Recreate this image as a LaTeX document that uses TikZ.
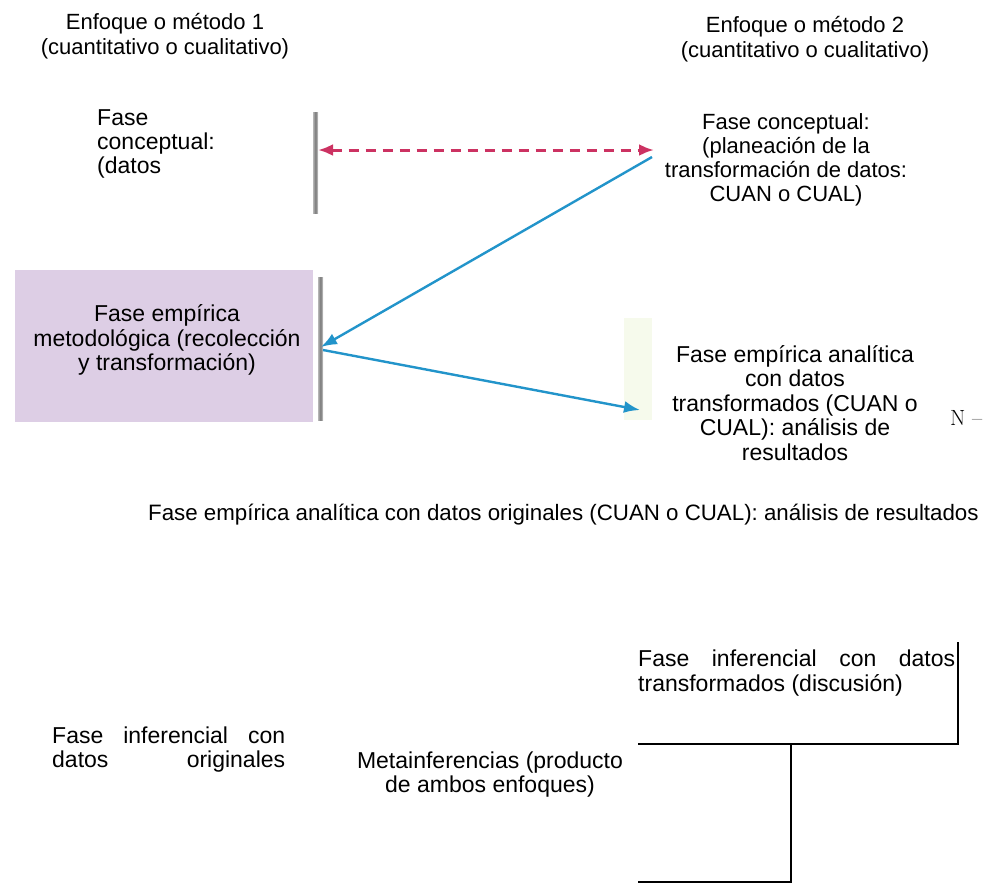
\documentclass[tikz,border=0pt]{standalone}
\usepackage{fontspec}
\newfontfamily\arialfont{Liberation Sans}
\usetikzlibrary{positioning, arrows.meta}

\definecolor{pinkarrow}{RGB}{204,50,98}
\definecolor{bluearrow}{RGB}{34,148,202}
\definecolor{lilac}{RGB}{221,206,229}
\definecolor{scanedge}{RGB}{120,120,120}
\definecolor{palegreen}{RGB}{246,250,236}

\begin{document}
\begin{tikzpicture}[
    x=1pt, y=-1pt,
    txt/.style={
        align=center,
        inner sep=0pt,
        font=\arialfont\fontsize{23}{24.5}\selectfont
    },
    lefttxt/.style={
        txt,
        align=left
    },
    phasebox/.style={
        fill=lilac,
        draw=none
    },
    edge/.style={
        left color=scanedge!55, right color=scanedge!35,
        middle color=scanedge,
        draw=none
    },
    dasharrow/.style={
        pinkarrow,
        line width=3pt,
        dash pattern=on 10pt off 7pt,
        {Latex[length=15pt,width=12pt]}-{Latex[length=15pt,width=12pt]}
    },
    arrow/.style={
        bluearrow,
        line width=2.4pt,
        -{Latex[length=16pt,width=12pt]}
    },
    rule/.style={
        black,
        line width=1.6pt
    }
]
\useasboundingbox (0,0) rectangle (998,884);

% Scanned background pieces

\fill[phasebox] (15,270) rectangle (313,422);
\fill[palegreen] (624,318) rectangle (652,420);
\shade[edge] (313,112) rectangle (318,213);
\shade[edge] (318,277) rectangle (323,420);

% Headers

\node[txt, font=\arialfont\fontsize{22}{25.5}\selectfont, anchor=north] (method1) at (165,13) {
Enfoque o método 1\\
(cuantitativo o cualitativo)
};

\node[txt, font=\arialfont\fontsize{22}{25.5}\selectfont, anchor=north] (method2) at (805,16) {
Enfoque o método 2\\
(cuantitativo o cualitativo)
};

% Phases

\node[lefttxt, font=\arialfont\fontsize{23}{24}\selectfont, anchor=north west] (concept1) at (97,109) {
Fase\\
conceptual:\\
(datos
};

\node[txt, font=\arialfont\fontsize{22}{24}\selectfont, anchor=north] (concept2) at (786,113) {
Fase conceptual:\\
(planeación de la\\
transformación de datos:\\
CUAN o CUAL)
};

\node[txt] (empirical) at (167,340) {
Fase empírica\\
metodológica (recolección\\
y transformación)
};

\node[txt, anchor=north] (analysis2) at (795,345) {
Fase empírica analítica\\
con datos\\
transformados (CUAN o\\
CUAL): análisis de\\
resultados
};

\node[anchor=west, inner sep=0pt, font=\fontsize{22}{24}\selectfont] (nmark) at (950,418) {N --};

\node[lefttxt, font=\arialfont\fontsize{22.3}{24}\selectfont, anchor=north west] (analysis1) at (148,504) {
Fase empírica analítica con datos originales (CUAN o CUAL): análisis de resultados
};

\node[lefttxt, font=\arialfont\fontsize{23}{25}\selectfont, anchor=north west] (infer2) at (638,650) {
\makebox[317pt][s]{Fase inferencial con datos}\\
transformados (discusión)
};

\node[lefttxt, font=\arialfont\fontsize{23}{24}\selectfont, anchor=north west] (infer1) at (52,727) {
\makebox[233pt][s]{Fase inferencial con}\\
\makebox[233pt][s]{datos originales}
};

\node[txt, font=\arialfont\fontsize{23}{24}\selectfont, anchor=north] (meta) at (490,752) {
Metainferencias (producto\\
de ambos enfoques)
};

% Arrows

\coordinate (dashL) at (318,150);
\coordinate (dashR) at (654,150);
\coordinate (blueTop) at (652,157);
\coordinate (blueMid) at (321,347);
\coordinate (blueStart) at (323,350);
\coordinate (blueEnd) at (640,410);

\draw[dasharrow] (dashL)--(dashR);
\draw[arrow] (blueTop)--(blueMid);
\draw[arrow] (blueStart)--(blueEnd);

% Bracket lines

\coordinate (rTop) at (958,642);
\coordinate (rCorner) at (958,744);
\coordinate (hLeft) at (638,744);
\coordinate (vTop) at (791,744);
\coordinate (vBot) at (791,882);
\coordinate (bLeft) at (638,882);

\draw[rule] (rTop)--(rCorner)--(hLeft);
\draw[rule] (vTop)--(vBot)--(bLeft);

\end{tikzpicture}
\end{document}
